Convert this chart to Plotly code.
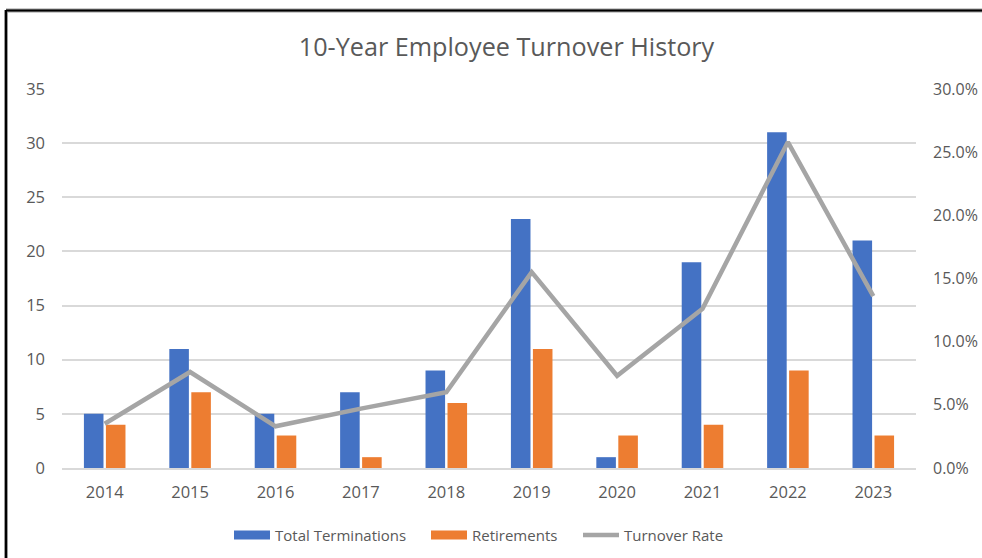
import plotly.graph_objects as go

# Annual turnover figures
years = ["2014", "2015", "2016", "2017", "2018", "2019", "2020", "2021", "2022", "2023"]
total_terminations = [5, 11, 5, 7, 9, 23, 1, 19, 31, 21]
retirements = [4, 7, 3, 1, 6, 11, 3, 4, 9, 3]
turnover_rate = [0.035, 0.076, 0.033, 0.047, 0.060, 0.155, 0.073, 0.126, 0.258, 0.136]

series_names = ["Total Terminations", "Retirements", "Turnover Rate"]
series_colors = ["#4472C4", "#ED7D31", "#A5A5A5"]

FONT = "'Open Sans', 'Noto Sans', sans-serif"
TEXT = "#595959"
GRID = "#D9D9D9"

W, H = 982, 558
ML, MR, MT, MB = 62, 66, 89, 90
PW, PH = W - ML - MR, H - MT - MB


def px_x(x):
    return (x - ML) / PW


def px_y(y):
    return (H - MB - y) / PH


fig = go.Figure()
fig.add_trace(go.Bar(x=years, y=total_terminations, name=series_names[0],
                     marker=dict(color=series_colors[0], line=dict(width=0))))
fig.add_trace(go.Bar(x=years, y=retirements, name=series_names[1],
                     marker=dict(color=series_colors[1], line=dict(width=0))))
fig.add_trace(go.Scatter(x=years, y=turnover_rate, name=series_names[2], yaxis="y2",
                         mode="lines", line=dict(color=series_colors[2], width=4.5)))

# Chart frame (top and left edges)
frame = [
    dict(x0=px_x(6), x1=px_x(6), y0=px_y(10), y1=px_y(H + 5)),
    dict(x0=px_x(6), x1=px_x(W + 5), y0=px_y(10.5), y1=px_y(10.5)),
]
shapes = []
for f in frame:
    shapes.append(dict(type="line", xref="paper", yref="paper", line=dict(color="#9a9a9a", width=4), **f))
for f in frame:
    shapes.append(dict(type="line", xref="paper", yref="paper", line=dict(color="#000000", width=2), **f))

# Legend row below the plot: wide swatches for bars, a short stroke for the line
LEG_Y = 535
legend_items = [  # (swatch left, swatch right, text left, kind)
    (234, 270, 274, "bar"),
    (431, 467, 471, "bar"),
    (583, 619, 623, "line"),
]
annotations = []
for (sx0, sx1, tx, kind), name, color in zip(legend_items, series_names, series_colors):
    if kind == "bar":
        shapes.append(dict(type="rect", xref="paper", yref="paper",
                           x0=px_x(sx0), x1=px_x(sx1), y0=px_y(LEG_Y - 4.5), y1=px_y(LEG_Y + 4.5),
                           fillcolor=color, line=dict(width=0)))
    else:
        shapes.append(dict(type="line", xref="paper", yref="paper",
                           x0=px_x(sx0), x1=px_x(sx1), y0=px_y(LEG_Y), y1=px_y(LEG_Y),
                           line=dict(color=color, width=4.5)))
    annotations.append(dict(text=name, xref="paper", yref="paper", x=px_x(tx - 1), y=px_y(LEG_Y),
                            xanchor="left", yanchor="middle", showarrow=False,
                            font=dict(size=15, color=TEXT, family=FONT)))

fig.update_layout(
    width=W, height=H,
    margin=dict(l=ML, r=MR, t=MT, b=MB, autoexpand=False),
    paper_bgcolor="white", plot_bgcolor="white",
    font=dict(family=FONT, color=TEXT, size=16),
    title=dict(text="10-Year Employee Turnover History", x=px_x(502.5), xanchor="center",
               y=1 - 47 / H, yanchor="middle", font=dict(size=25.2, color=TEXT, family=FONT)),
    barmode="group", bargap=0.485, bargroupgap=0.11,
    showlegend=False,
    xaxis=dict(showgrid=False, showline=True, linecolor=GRID, linewidth=1.5, ticks="",
               automargin=False, ticklabelstandoff=8, tickfont=dict(size=16.5, color=TEXT),
               fixedrange=True),
    yaxis=dict(range=[0, 35], dtick=5, showgrid=True, gridcolor=GRID, gridwidth=1.5,
               zeroline=False, showline=False, ticks="", ticklabelstandoff=16, automargin=False,
               tickfont=dict(size=16.5, color=TEXT)),
    yaxis2=dict(range=[0, 0.30], dtick=0.05, tickformat=".1%", overlaying="y", side="right",
                showgrid=False, zeroline=False, showline=False, ticks="", ticklabelstandoff=16,
                automargin=False, tickfont=dict(size=16, color=TEXT)),
    shapes=shapes,
    annotations=annotations,
)

fig.write_html("out.html")
